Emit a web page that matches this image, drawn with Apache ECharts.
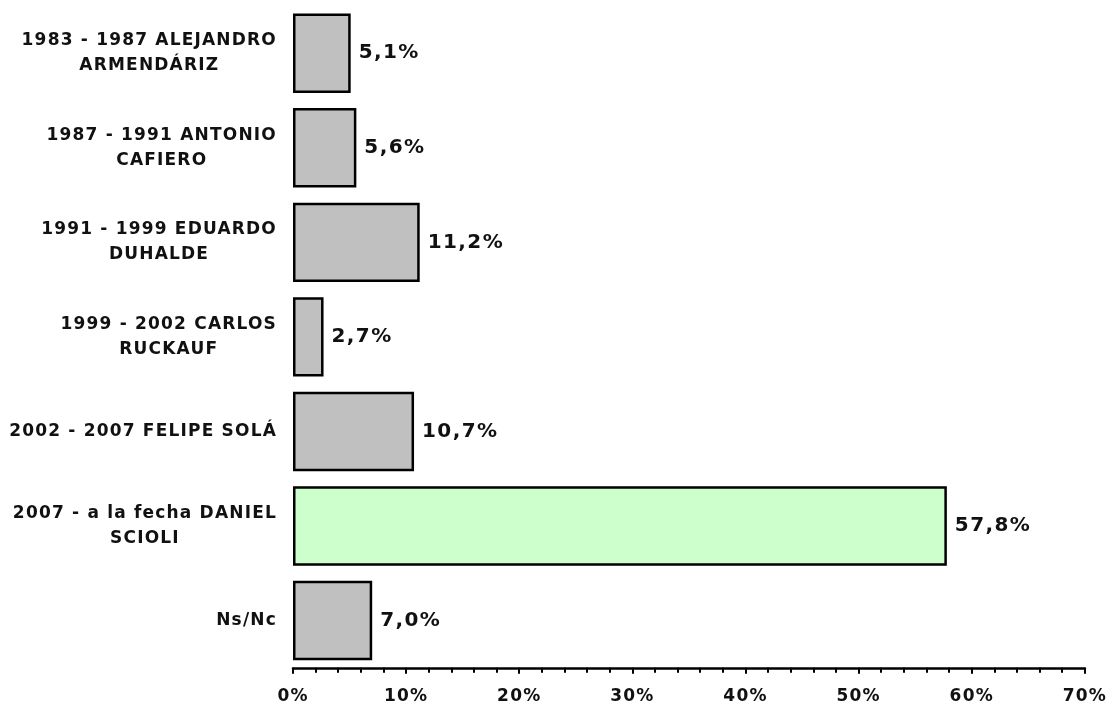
<!DOCTYPE html>
<html>
<head>
<meta charset="utf-8">
<script src="https://cdn.jsdelivr.net/npm/echarts@6/dist/echarts.min.js"></script>
<style>
html,body{margin:0;padding:0;background:#fff;}
#chart{width:1110px;height:706px;}
</style>
</head>
<body>
<div id="chart"></div>
<script>
const categories = [
  "1983 - 1987 ALEJANDRO\nARMENDÁRIZ",
  "1987 - 1991 ANTONIO\nCAFIERO",
  "1991 - 1999 EDUARDO\nDUHALDE",
  "1999 - 2002 CARLOS\nRUCKAUF",
  "2002 - 2007 FELIPE SOLÁ",
  "2007 - a la fecha DANIEL\nSCIOLI",
  "Ns/Nc"
];
const values = [5.1, 5.6, 11.2, 2.7, 10.7, 57.8, 7.0];
const highlighted = "2007 - a la fecha DANIEL\nSCIOLI";
const xTicks = [0, 10, 20, 30, 40, 50, 60, 70];

// Slightly wider letter spacing, like the original chart's text rendering.
(function () {
  const proto = CanvasRenderingContext2D.prototype;
  const desc = Object.getOwnPropertyDescriptor(proto, 'font');
  if (desc && 'letterSpacing' in proto) {
    Object.defineProperty(proto, 'font', {
      configurable: true,
      get: function () { return desc.get.call(this); },
      set: function (v) {
        desc.set.call(this, v);
        const m = /(\d+(?:\.\d+)?)px/.exec(v);
        const size = m ? parseFloat(m[1]) : 12;
        this.letterSpacing = (size * 0.07).toFixed(2) + 'px';
      }
    });
  }
})();

const FONT = "'DejaVu Sans', Verdana, sans-serif";
const chart = echarts.init(document.getElementById('chart'));
chart.setOption({
  animation: false,
  backgroundColor: '#ffffff',
  grid: { left: 293, right: 24, top: 6, bottom: 37, containLabel: false },
  xAxis: {
    type: 'value',
    min: xTicks[0],
    max: xTicks[xTicks.length - 1],
    interval: 10,
    axisLine: { show: true, lineStyle: { color: '#000', width: 2.5 } },
    axisTick: { show: true, length: 6, lineStyle: { color: '#000', width: 2 } },
    minorTick: { show: true, splitNumber: 5, length: 5, lineStyle: { color: '#000', width: 2 } },
    splitLine: { show: false },
    axisLabel: {
      margin: 20,
      color: '#111',
      fontFamily: FONT,
      fontWeight: 'bold',
      fontSize: 17,
      formatter: '{value}%'
    }
  },
  yAxis: {
    type: 'category',
    inverse: true,
    data: categories,
    axisLine: { show: false },
    axisTick: { show: false },
    axisLabel: {
      margin: 16,
      color: '#111',
      formatter: function (v) {
        return v.split('\n').map(function (l) { return '{c|' + l + '}'; }).join('\n');
      },
      rich: {
        c: {
          align: 'center',
          fontFamily: FONT,
          fontWeight: 'bold',
          fontSize: 17,
          lineHeight: 25,
          color: '#111'
        }
      }
    }
  },
  series: [{
    type: 'bar',
    barCategoryGap: '16%',
    data: values.map(function (v, i) {
      return {
        value: v,
        itemStyle: {
          color: categories[i] === highlighted ? '#CCFFCC' : '#C0C0C0',
          borderColor: '#000',
          borderWidth: 2.5
        }
      };
    }),
    label: {
      show: true,
      position: 'right',
      distance: 8,
      color: '#111',
      fontFamily: FONT,
      fontWeight: 'bold',
      fontSize: 20,
      formatter: function (p) { return p.value.toFixed(1).replace('.', ',') + '%'; }
    }
  }]
});
</script>
</body>
</html>
